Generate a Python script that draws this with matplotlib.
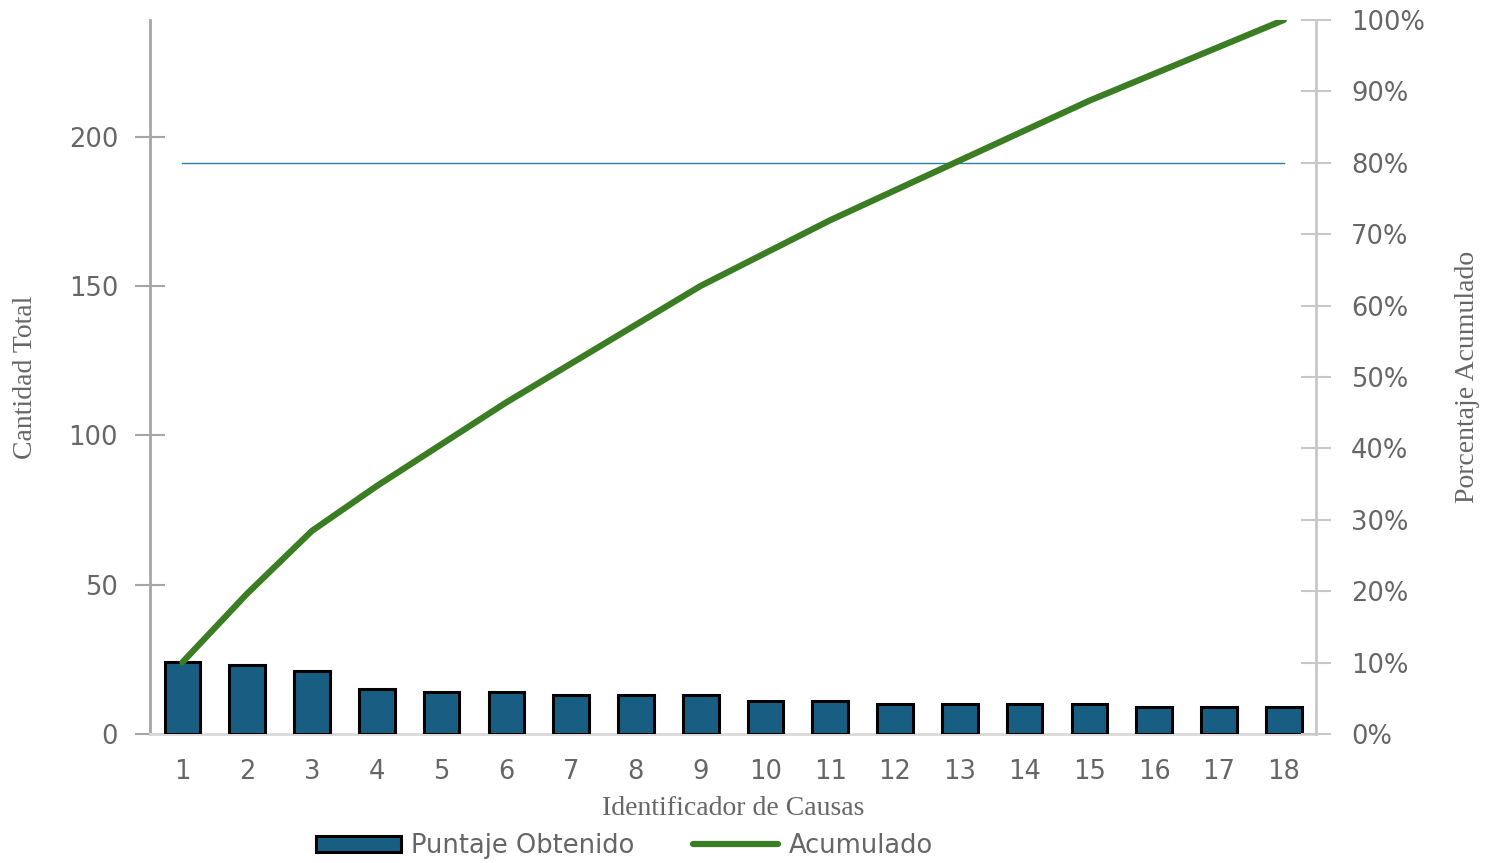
import numpy as np
import matplotlib.pyplot as plt

# Data
causas = list(range(1, 19))
puntaje = [24, 23, 21, 15, 14, 14, 13, 13, 13, 11, 11, 10, 10, 10, 10, 9, 9, 9]
umbral = 0.80

total = sum(puntaje)
acumulado = np.cumsum(puntaje) / total

bar_color = '#185E82'
line_color = '#3A7D22'
text_color = '#666666'
serif = ['Liberation Serif', 'DejaVu Serif']

fig = plt.figure(figsize=(14.97, 8.63), dpi=100)
ax = fig.add_axes([0.1002, 0.1495, 0.779, 0.8273])
ax2 = ax.twinx()

bars = ax.bar(causas, puntaje, width=0.55, color=bar_color, edgecolor='black',
              linewidth=2.2, label='Puntaje Obtenido', zorder=3)
ax.set_xlim(0.5, 18.5)
ax.set_ylim(0, total)
ax.set_yticks([0, 50, 100, 150, 200])
ax.set_xticks(causas)

line, = ax2.plot(causas, acumulado, color=line_color, lw=4.5,
                 solid_capstyle='round', label='Acumulado', zorder=4)
ax2.plot([causas[0], causas[-1]], [umbral, umbral], color='#2E7FA8', lw=1.0, zorder=2)
ax2.set_ylim(0, 1)
ax2.set_yticks(np.arange(0, 1.01, 0.1))
ax2.set_yticklabels([f"{int(round(v * 100))}%" for v in np.arange(0, 1.01, 0.1)])

# Spines and ticks
for a in (ax, ax2):
    for s in a.spines.values():
        s.set_visible(False)
ax.spines['left'].set_visible(True)
ax.spines['left'].set_color('#A6A6A6')
ax.spines['left'].set_linewidth(2)
ax.spines['bottom'].set_visible(True)
ax.spines['bottom'].set_color('#D9D9D9')
ax.spines['bottom'].set_linewidth(2)
ax2.spines['right'].set_visible(True)
ax2.spines['right'].set_color('#C8C8C8')
ax2.spines['right'].set_linewidth(2)

ax.tick_params(axis='y', direction='inout', length=22, width=1.5, color='#A6A6A6',
               labelsize=18.5, labelcolor=text_color, pad=12)
ax.tick_params(axis='x', length=0, labelsize=18.5, labelcolor=text_color, pad=18)
ax2.tick_params(axis='y', direction='inout', length=22, width=1.5, color='#C8C8C8',
                labelsize=18.5, labelcolor=text_color, pad=14)

ax.set_xlabel('Identificador de Causas', fontsize=20, color=text_color,
              family=serif, labelpad=8)
ax.set_ylabel('Cantidad Total', fontsize=20, color=text_color, family=serif, labelpad=22)
ax2.set_ylabel('Porcentaje Acumulado', fontsize=20, color=text_color, family=serif, labelpad=22)

fig.legend(handles=[bars, line], labels=['Puntaje Obtenido', 'Acumulado'],
           loc='lower center', bbox_to_anchor=(0.417, -0.022), ncol=2, frameon=False,
           fontsize=18.5, labelcolor=text_color, handlelength=3.3, handleheight=0.6,
           columnspacing=2.3, handletextpad=0.4)

fig.savefig('out.png', dpi=100)
